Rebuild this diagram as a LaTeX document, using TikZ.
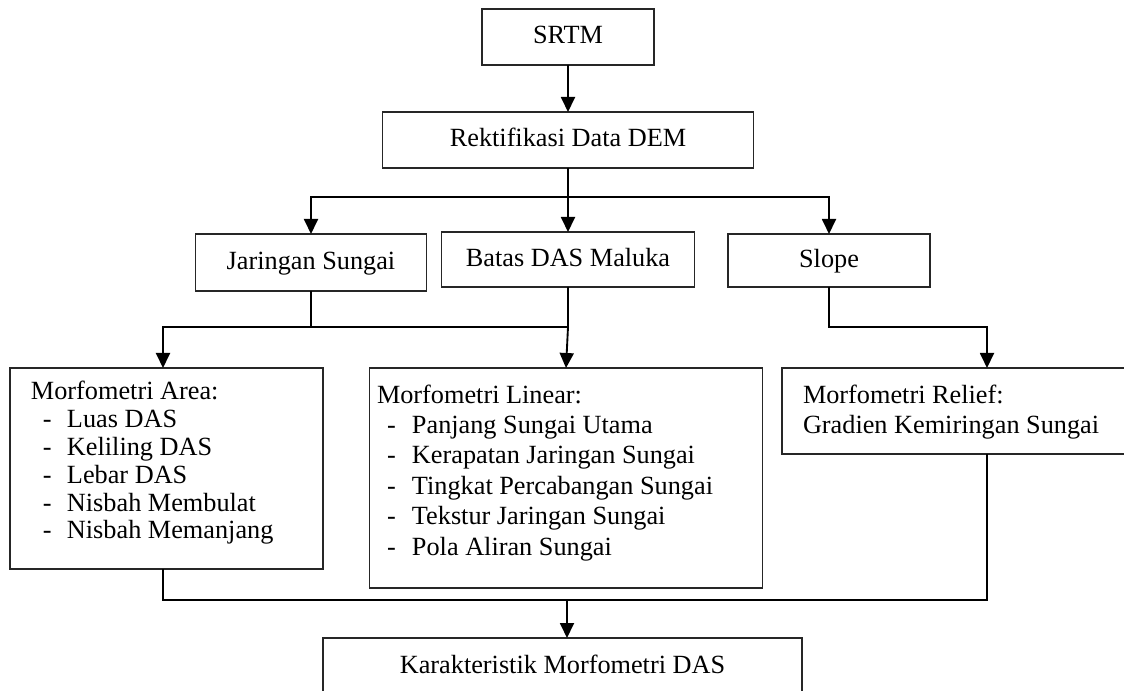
\documentclass[tikz,border=0pt]{standalone}
\usepackage{fontspec}
\setmainfont{Liberation Serif}
\usetikzlibrary{arrows.meta}
\newlength\pxu
\setlength\pxu{0.75pt}
\newcommand\itm[3]{\hbox{\kern#1\hbox to #2{-\hfil}#3}}
\begin{document}
\begin{tikzpicture}[x=0.75pt,y=-0.75pt,
  font=\fontsize{19.7pt}{23pt}\selectfont,
  box/.style={draw=black!85, line width=0.9pt, inner sep=0pt, outer sep=0pt,
              text height=13pt, text depth=3pt},
  line/.style={line width=1.4pt},
  arr/.style={line width=1.4pt, -{Triangle[length=11.25pt,width=10.5pt]}},
  txt/.style={anchor=base west, inner sep=0pt, outer sep=0pt}]
\useasboundingbox (0,0) rectangle (1124,691);
\clip (0,0) rectangle (1124,691);

% boxes
\node[box, minimum width=172\pxu, minimum height=56\pxu] (srtm) at (568,37) {SRTM};
\node[box, minimum width=371\pxu, minimum height=56\pxu] (rekt) at (568,140) {Rektifikasi Data DEM};
\node[box, minimum width=231\pxu, minimum height=57\pxu] (jar) at (311,262.5) {Jaringan Sungai};
\node[box, minimum width=253\pxu, minimum height=55\pxu] (batas) at (568,259.5) {Batas DAS Maluka};
\node[box, minimum width=202\pxu, minimum height=53\pxu] (slope) at (829,260.5) {Slope};
\node[box, minimum width=313\pxu, minimum height=201\pxu] (area) at (166.5,468.5) {};
\node[box, minimum width=393\pxu, minimum height=220\pxu] (linear) at (566,478) {};
\node[box, minimum width=348\pxu, minimum height=86\pxu] (relief) at (956,411) {};
\node[box, minimum width=479\pxu, minimum height=58\pxu] (karak) at (562.5,667) {Karakteristik Morfometri DAS};

% texts of the list boxes
\node[txt] (areatxt) at (31,400) {\vtop{\baselineskip=27.8\pxu
  \hbox{Morfometri Area:}
  \itm{12\pxu}{24\pxu}{Luas DAS}
  \itm{12\pxu}{24\pxu}{Keliling DAS}
  \itm{12\pxu}{24\pxu}{Lebar DAS}
  \itm{12\pxu}{24\pxu}{Nisbah Membulat}
  \itm{12\pxu}{24\pxu}{Nisbah Memanjang}}};
\node[txt] (lineartxt) at (377,403) {\vtop{\baselineskip=30.4\pxu
  \hbox{Morfometri Linear:}
  \itm{10\pxu}{25\pxu}{Panjang Sungai Utama}
  \itm{10\pxu}{25\pxu}{Kerapatan Jaringan Sungai}
  \itm{10\pxu}{25\pxu}{Tingkat Percabangan Sungai}
  \itm{10\pxu}{25\pxu}{Tekstur Jaringan Sungai}
  \itm{10\pxu}{25\pxu}{Pola Aliran Sungai}}};
\node[txt] (relieftxt) at (803,403) {\vtop{\baselineskip=30\pxu
  \hbox{Morfometri Relief:}
  \hbox{Gradien Kemiringan Sungai}}};

% junction points
\coordinate (b1) at (568,197);
\coordinate (j2) at (568,327);
\coordinate (ja) at (163,327);
\coordinate (s2) at (987,327);
\coordinate (k2) at (567,600);

% connectors
\draw[arr] (srtm.south) -- (rekt.north);
\draw[line] (rekt.south) -- (b1);
\draw[arr] (b1) -| (jar.north);
\draw[arr] (b1) -- (batas.north);
\draw[arr] (b1) -| (slope.north);

\draw[line] (jar.south) -- (jar.south |- j2);
\draw[line] (batas.south) -- (j2);
\draw[arr] (j2) -- (ja) -- (ja |- area.north);
\draw[arr] (j2) -- (linear.north);
\draw[arr] (slope.south) |- (s2) -- (s2 |- relief.north);

\draw[line] (ja |- area.south) -- (ja |- k2) -- (s2 |- k2) -- (s2 |- relief.south);
\draw[arr] (k2) -- (k2 |- karak.north);
\end{tikzpicture}
\end{document}
